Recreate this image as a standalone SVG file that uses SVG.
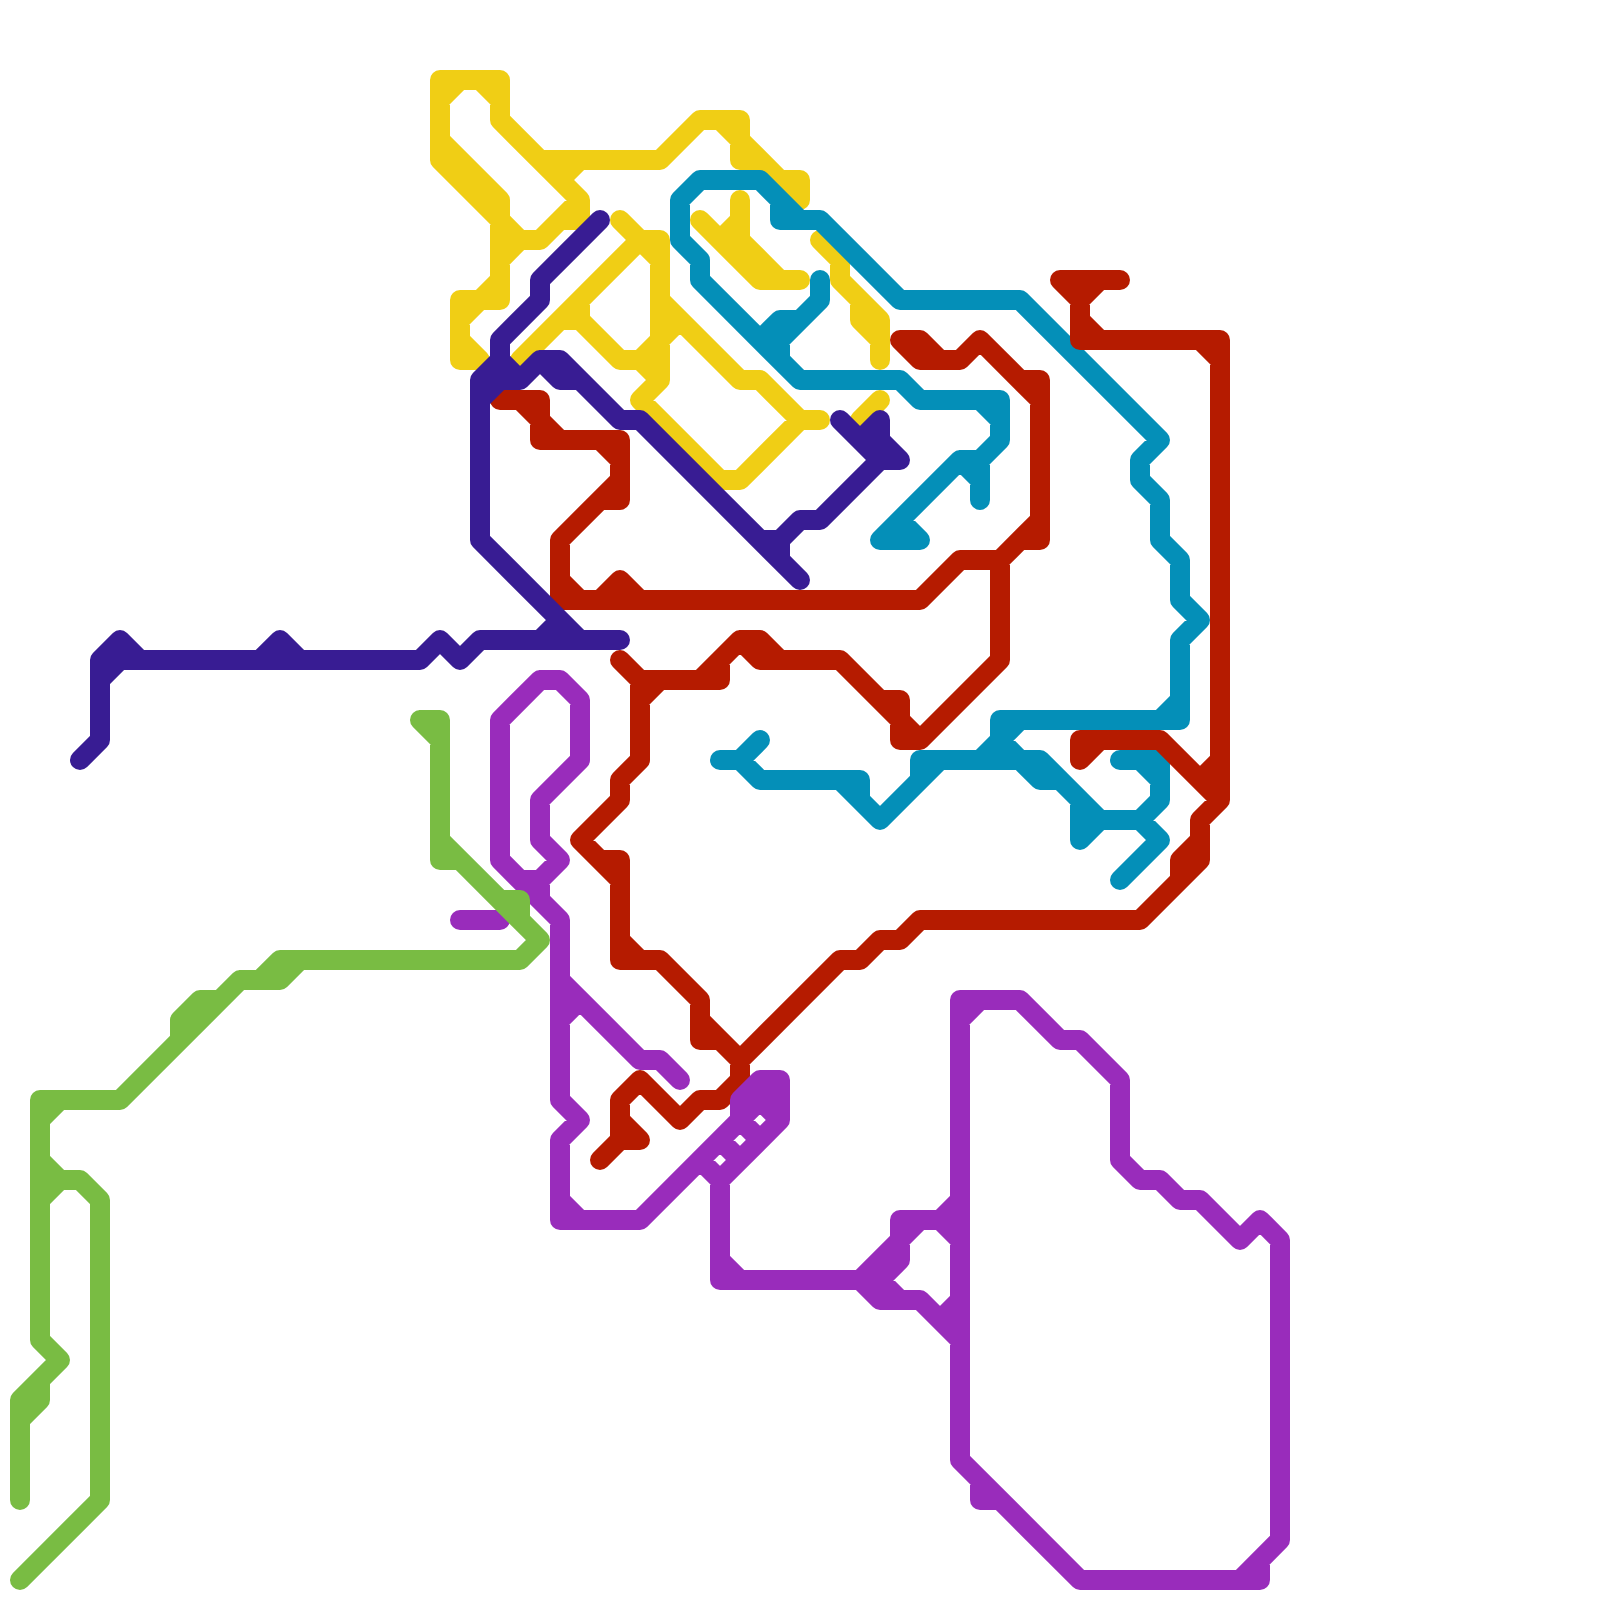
<svg xmlns="http://www.w3.org/2000/svg" width="1600" height="1600" viewBox="0 0 1600 1600">
<style>
path{fill:none;stroke-width:20;stroke-linecap:round;stroke-linejoin:round}
.y{stroke:#F0CE15}.t{stroke:#048FB8}.r{stroke:#B51B00}.m{stroke:#992CBB}.i{stroke:#381C93}.g{stroke:#79BC43}
</style>
<rect width="1600" height="1600" fill="#fff"/>
<g id="connectors">
<path id="yellow" class="y" d="M440 160V80H500V120L580 200V220H560M440 100L460 80M480 80L500 100M440 140L500 200V220M440 160L500 220V300H460V360H480M460 320L500 280M460 340L480 360M500 220L520 240H540L580 200M500 260L520 240M560 180L580 160M540 160H660L700 120H740V160H760L800 200V180H780L740 140M720 120L740 140M620 220L640 240H660V380L640 400L720 480H740L800 420H820M660 300L740 380H760L800 420M660 340L680 320M640 240L520 360M580 300V320L620 360H640L660 340M640 240L660 260M560 320H580M640 360L660 380M700 220L760 280H800M740 200V240L780 280M720 240L740 220M820 240L840 260V280L880 320V360M840 280L860 300V320L880 340M880 400L860 420"/>
<path id="teal" class="t" d="M680 200L700 180H760L780 200V220H820L900 300H1020L1160 440L1140 460V480L1160 500V540L1180 560V600L1200 620L1180 640V720H1000V740L980 760H920M760 180L800 220M1160 720L1180 700M1000 740L1020 760H1040L1100 820H1140L1160 840L1120 880M980 760H1020M1020 760L1040 780H1060L1080 800V840L1100 820M1140 820L1160 800V760H1120M1140 760L1160 780M1020 720L1000 740M680 200V240L700 260V280L800 380H900L920 400H1000V440L980 460H960L880 540H920L900 520M1000 420L980 400M980 460V500M960 460L980 480M760 340L780 320H800L820 300V280M820 300L780 340V360M920 760V780M940 760L880 820L840 780M860 780H760L740 760H720M860 780V800L880 820M740 760L760 740"/>
<path id="red" class="r" d="M500 400H540V420L560 440H620V500H600M520 400L540 420V440H600L620 460M620 480L560 540V600H920L960 560H1000L1040 520V380H1020L980 340L960 360H940L920 340H900L920 360H960M980 340L1040 400M1040 520V540H1020L1000 560V660L920 740H900V700H880L840 660H760L740 640L720 660V680H640L620 660M660 680L640 700M560 580L580 600H600L620 580L640 600M700 680L740 640H760L780 660M840 660L900 720L920 740M640 680V760L620 780V800L580 840L620 880V860H600L580 840M620 860V960H660L700 1000V1040H720L740 1060L840 960H860L880 940H900L920 920H1140L1200 860V820L1220 800V340H1080V300L1060 280H1120M1080 300L1100 280M1080 320L1100 340M1200 340L1220 360M1180 880V860L1200 840M1140 920L1180 880M1220 760L1200 780M1220 800L1160 740H1080V760L1100 740M620 940L640 960M700 1020L720 1040M740 1060V1080L720 1100H700L680 1120L640 1080L620 1100V1140H640L620 1120M620 1140L600 1160"/>
<path id="magenta" class="m" d="M540 680H560L580 700V760L540 800V840L560 860L540 880H520L500 860V720L540 680M500 860L540 900L560 920V1100L580 1120L560 1140V1220H640L780 1080V1120L720 1180V1280H880M540 880V900M460 920H500M560 980L640 1060H660L680 1080M560 1020L580 1000M560 1200L580 1220M740 1120V1100L760 1080H780M700 1160L720 1180M720 1140L740 1160M740 1120L760 1140M760 1100L780 1120M720 1260L740 1280M860 1280L900 1240V1220H960M900 1240V1260L880 1280L900 1300H920L960 1340M860 1280L880 1300H920M900 1240L920 1220M940 1220L960 1200M940 1220L960 1240M960 1300L940 1320M960 1460V1000H1020L1060 1040H1080L1120 1080V1160L1140 1180H1160L1180 1200H1200L1240 1240L1260 1220L1280 1240V1540L1240 1580H1080L960 1460M960 1020L980 1000M1260 1560V1580H1240M980 1480V1500H1000"/>
<path id="indigo" class="i" d="M80 760L100 740V660H420L440 640L460 660L480 640H620M100 660L120 640L140 660M100 680L120 660M260 660L280 640L300 660M540 640L560 620M620 640H580L480 540V380L500 360L520 380L540 360H560L620 420H640L800 580M480 400L500 380H520M540 360L560 380H580M600 220L540 280V300L500 340V380M760 540H780V560M780 540L800 520H820L880 460H900L880 440V420L860 440M840 420L880 460"/>
<path id="green" class="g" d="M420 720H440V860H460L540 940L520 960H300L280 980H240L120 1100H40V1340L60 1360L20 1400V1500M420 720L440 740M440 840L540 940M500 900H520V920M300 960H280L260 980M240 980L220 1000H200L180 1020V1040L120 1100M40 1120L60 1100M40 1160L60 1180H80L100 1200V1500L20 1580M40 1200L60 1180M60 1360L40 1380V1400L20 1420"/>
</g>
</svg>
